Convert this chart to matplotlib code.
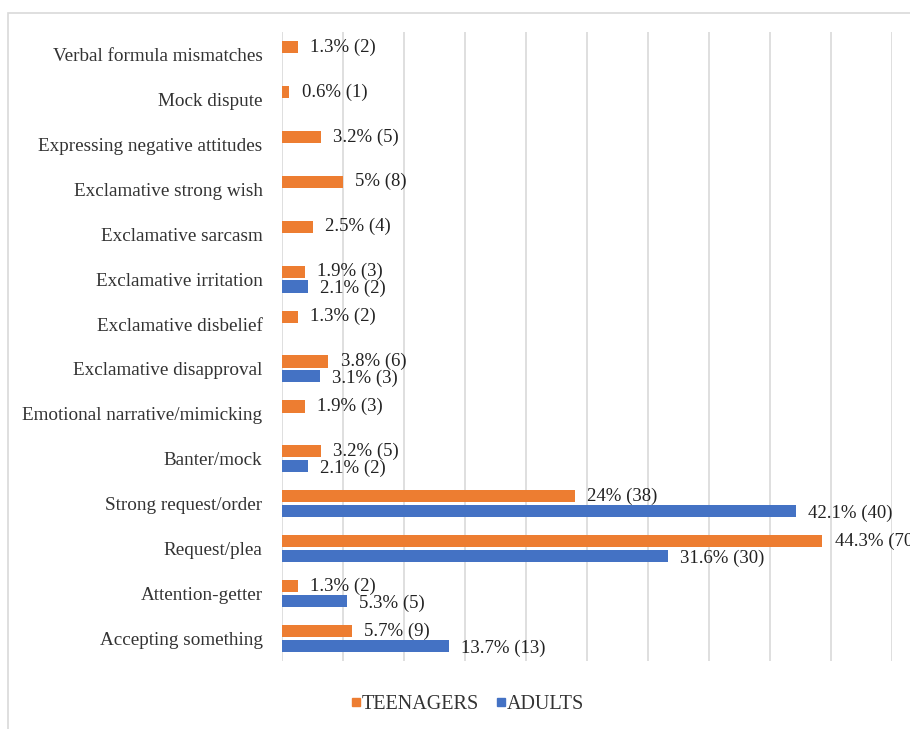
import matplotlib
matplotlib.use("Agg")
import matplotlib.pyplot as plt
import numpy as np
from matplotlib.patches import Rectangle
from matplotlib.lines import Line2D

# Categories listed bottom to top
categories = [
    "Accepting something",
    "Attention-getter",
    "Request/plea",
    "Strong request/order",
    "Banter/mock",
    "Emotional narrative/mimicking",
    "Exclamative disapproval",
    "Exclamative disbelief",
    "Exclamative irritation",
    "Exclamative sarcasm",
    "Exclamative strong wish",
    "Expressing negative attitudes",
    "Mock dispute",
    "Verbal formula mismatches",
]
teen_pct = [5.7, 1.3, 44.3, 24, 3.2, 1.9, 3.8, 1.3, 1.9, 2.5, 5, 3.2, 0.6, 1.3]
teen_n = [9, 2, 70, 38, 5, 3, 6, 2, 3, 4, 8, 5, 1, 2]
adult_pct = [13.7, 5.3, 31.6, 42.1, 2.1, 0, 3.1, 0, 2.1, 0, 0, 0, 0, 0]
adult_n = [13, 5, 30, 40, 2, 0, 3, 0, 2, 0, 0, 0, 0, 0]

ORANGE = "#ED7D31"
BLUE = "#4472C4"
GRID = "#d9d9d9"
SERIF = ["Liberation Serif", "DejaVu Serif"]

fig = plt.figure(figsize=(9.10, 7.29), dpi=100)
fig.patches.append(Rectangle((8 / 910, -0.05), 1.2, 1.05 - 13 / 729, transform=fig.transFigure,
                             fill=False, edgecolor=GRID, linewidth=1.2))

ax = fig.add_axes([282 / 910, 1 - 661 / 729, (892 - 282) / 910, (661 - 32) / 729])
y = np.arange(len(categories))
h = 0.27
off = 0.165

ax.barh(y + off, teen_pct, height=h, color=ORANGE, zorder=3)
adult_vals = np.array(adult_pct, dtype=float)
ax.barh(y - off, np.where(adult_vals > 0, adult_vals, np.nan), height=h, color=BLUE, zorder=3)

for i in range(len(categories)):
    ax.text(teen_pct[i] + 1.0, y[i] + off, f"{teen_pct[i]:g}% ({teen_n[i]})",
            va="center", ha="left", fontsize=13.5, family=SERIF, color="#222222",
            clip_on=False, zorder=4)
    if adult_pct[i] > 0:
        ax.text(adult_pct[i] + 1.0, y[i] - off - 0.05, f"{adult_pct[i]:g}% ({adult_n[i]})",
                va="center", ha="left", fontsize=13.5, family=SERIF, color="#222222",
                clip_on=False, zorder=4)

ax.set_xlim(0, 50)
ax.set_ylim(-0.5, len(categories) - 0.5)
ax.set_xticks(np.arange(0, 51, 5))
ax.set_xticklabels([])
ax.tick_params(axis="x", length=0)
ax.grid(axis="x", color=GRID, linewidth=1.2, zorder=0)
ax.set_yticks(y)
ax.set_yticklabels(categories, family=SERIF, fontsize=13.8, color="#333333")
ax.tick_params(axis="y", length=0, pad=14)
for s in ax.spines.values():
    s.set_visible(False)

handles = [Line2D([], [], marker="s", linestyle="none", color=ORANGE, markersize=6),
           Line2D([], [], marker="s", linestyle="none", color=BLUE, markersize=6)]
fig.legend(handles, ["TEENAGERS", "ADULTS"], loc="center", bbox_to_anchor=(464 / 910, 1 - 704 / 729),
           ncol=2, frameon=False, prop={"family": SERIF, "size": 14.5}, handletextpad=-0.3,
           columnspacing=0.5, handlelength=1.2, labelcolor="#333333")

fig.savefig("out.png", dpi=100)
